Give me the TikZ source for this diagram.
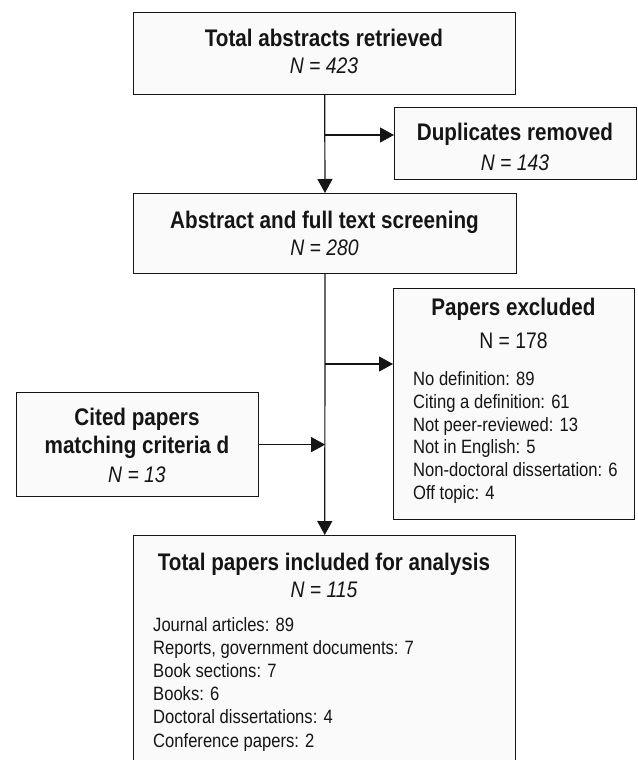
\documentclass[tikz,border=0pt]{standalone}
\usepackage{fontspec}
\setmainfont[FakeStretch=0.86]{Liberation Sans}
\usetikzlibrary{positioning,arrows.meta,calc}
\definecolor{boxfill}{HTML}{FAFAFA}
\definecolor{ink}{HTML}{151515}

\begin{document}
\begin{tikzpicture}[x=1pt, y=-1pt,
  box/.style={draw=ink, line width=1.2pt, fill=boxfill, anchor=north west, inner sep=0pt},
  ttl/.style={anchor=base, inner sep=0pt, text=ink, font=\bfseries\fontsize{24}{28}\selectfont},
  num/.style={anchor=base, inner sep=0pt, text=ink, font=\itshape\fontsize{22.5}{26}\selectfont},
  lst/.style={anchor=base west, inner sep=0pt, text=ink, font=\fontsize{19.3}{23}\selectfont},
  flow/.style={draw=ink, line width=1.2pt, -{Triangle[length=14pt, width=15pt]}}]
\clip (0,0) rectangle (637,760);
% boxes
\node[box, minimum width=382, minimum height=82] (total) at (133,12) {};
\node[box, minimum width=242, minimum height=72] (dup) at (394,107) {};
\node[box, minimum width=383, minimum height=80] (screen) at (133,193) {};
\node[box, minimum width=241, minimum height=231] (excl) at (393,288) {};
\node[box, minimum width=242, minimum height=104] (cited) at (16,392) {};
\node[box, minimum width=382, minimum height=240] (final) at (133,535) {};
% texts
\node[ttl] (totalt) at (324,46.7) {Total abstracts retrieved};
\node[num] (totaln) at (324,74) {N = 423};
\node[ttl] (dupt) at (515,140.7) {Duplicates removed};
\node[num] (dupn) at (515,170) {N = 143};
\node[ttl] (screent) at (324.5,228) {Abstract and full text screening};
\node[num] (screenn) at (324.5,255) {N = 280};
\node[ttl] (exclt) at (513.5,315) {Papers excluded};
\node[num, font=\fontsize{22.5}{26}\selectfont] (excln) at (513.5,348) {N = 178};
\node[ttl] (citedt) at (137,425) {Cited papers};
\node[ttl] (citedm) at (137,453) {matching criteria d};
\node[num] (citedn) at (137,482) {N = 13};
\node[ttl] (finalt) at (324,570) {Total papers included for analysis};
\node[num] (finaln) at (324,597) {N = 115};
\foreach \t [count=\i from 0] in {No definition: 89, Citing a definition: 61, Not peer-reviewed: 13,
  Not in English: 5, Non-doctoral dissertation: 6, Off topic: 4}
  \node[lst] (ex\i) at (413,385.5+22.8*\i) {\t};
\foreach \t [count=\i from 0] in {Journal articles: 89, {Reports, government documents: 7}, Book sections: 7,
  Books: 6, Doctoral dissertations: 4, Conference papers: 2}
  \node[lst] (in\i) at (153,631+23.2*\i) {\t};
% connectors
\coordinate (j1) at (325,135);
\coordinate (j2) at (325,364);
\coordinate (j3) at (cited -| screen.south);
\draw[flow] (total) -- (screen);
\draw[flow] (j1) -- (j1 -| dup.west);
\draw[flow] (screen) -- (final);
\draw[flow] (j2) -- (j2 -| excl.west);
\draw[flow] (cited) -- (j3);
\end{tikzpicture}
\end{document}
